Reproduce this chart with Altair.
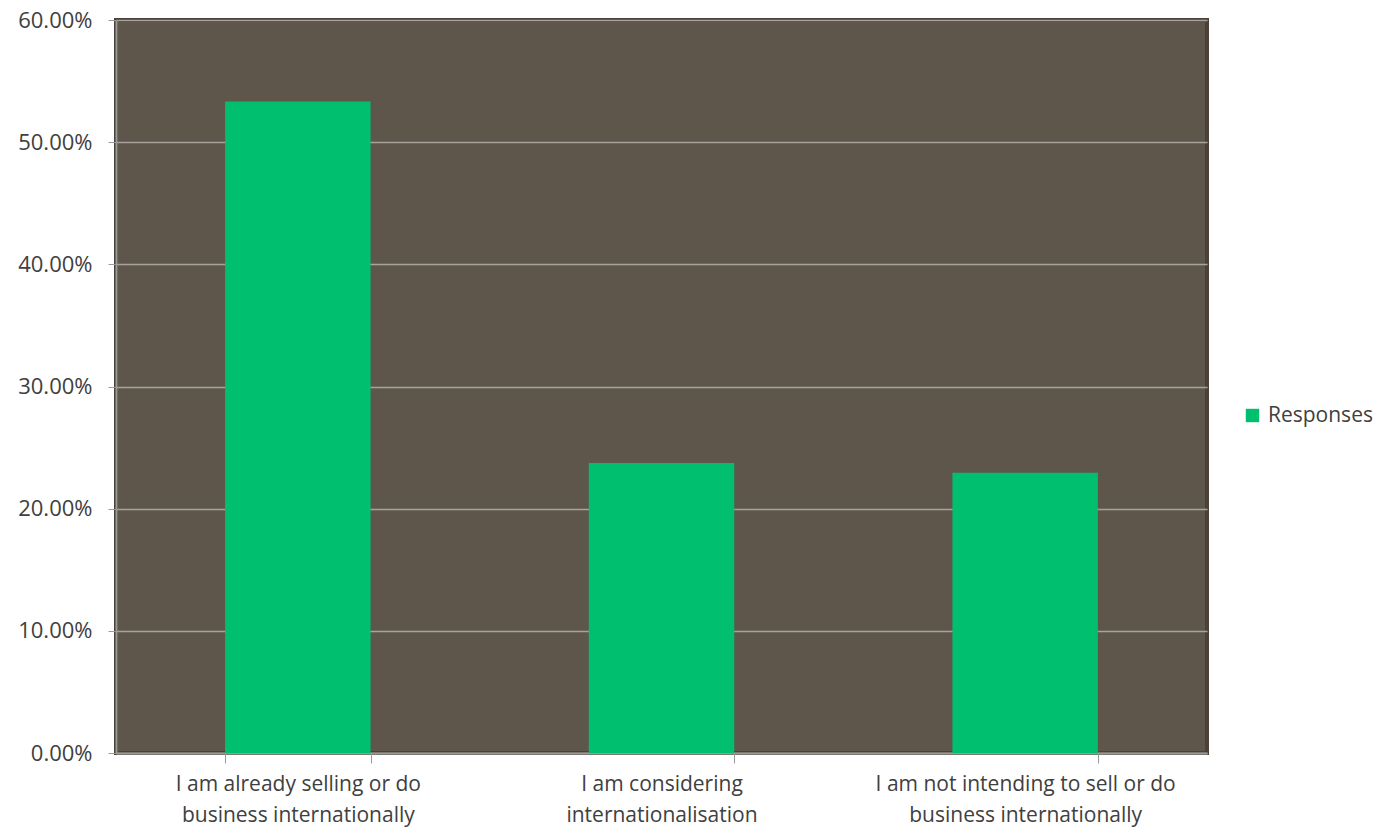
import altair as alt
import pandas as pd

categories = [
    "I am already selling or do|business internationally",
    "I am considering|internationalisation",
    "I am not intending to sell or do|business internationally",
]
values = [0.5333, 0.2374, 0.2293]
series = ["Responses"] * 3

df = pd.DataFrame({"category": categories, "value": values, "series": series})

FONT = "Open Sans"
TXT = "#404040"

chart = alt.Chart(df).mark_bar(color="#00BF6F").encode(
    x=alt.X(
        "category:N",
        sort=categories,
        scale=alt.Scale(paddingInner=0.6, paddingOuter=0.3),
        axis=alt.Axis(
            title=None,
            labelAngle=0,
            labelExpr="split(datum.label, '|')",
            labelFont=FONT,
            labelFontSize=21,
            labelColor=TXT,
            labelLineHeight=31,
            labelPadding=10,
            tickBand="extent",
            tickSize=10,
            tickColor="#999999",
            domainColor="#999999",
            domainWidth=2,
            grid=False,
            labelLimit=400,
        ),
    ),
    y=alt.Y(
        "value:Q",
        scale=alt.Scale(domain=[0, 0.6]),
        axis=alt.Axis(
            title=None,
            format=".2%",
            values=[0, 0.1, 0.2, 0.3, 0.4, 0.5, 0.6],
            labelFont=FONT,
            labelFontSize=22,
            labelColor=TXT,
            labelPadding=16,
            tickSize=8,
            tickColor="#999999",
            domainColor="#999999",
            domainWidth=2,
            gridColor="#a8a39d",
            gridWidth=1.5,
        ),
    ),
    fill=alt.Fill(
        "series:N",
        scale=alt.Scale(range=["#00BF6F"]),
        legend=alt.Legend(
            title=None,
            orient="none",
            legendX=1126,
            legendY=385,
            symbolType="square",
            symbolSize=180,
            symbolStrokeWidth=0,
            labelFont=FONT,
            labelFontSize=21,
            labelColor=TXT,
            labelOffset=5,
        ),
    ),
).properties(
    width=1091,
    height=733,
    background="white",
    autosize=alt.AutoSizeParams(type="none"),
    padding={"left": 108, "top": 12, "right": 171, "bottom": 76},
).configure_view(
    fill="#5e564b",
    stroke="#4a4238",
    strokeWidth=4,
)

chart.save("out.html", embed_options={"renderer": "svg", "actions": False})
